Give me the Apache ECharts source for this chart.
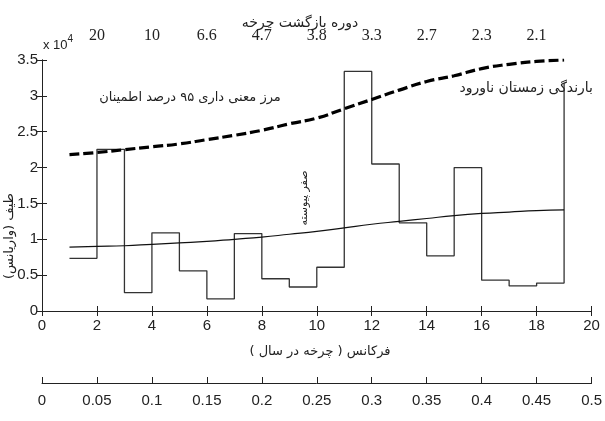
<!DOCTYPE html>
<html>
<head>
<meta charset="utf-8">
<script src="https://cdn.jsdelivr.net/npm/echarts@6/dist/echarts.min.js"></script>
<style>
html,body{margin:0;padding:0;background:#fff;}
#chart{width:605px;height:421px;}
</style>
</head>
<body>
<div id="chart"></div>
<script>
// Frequency bins (cycles per 40 years) and spectrum values (x 10^4)
const freq = [1,2,3,4,5,6,7,8,9,10,11,12,13,14,15,16,17,18,19];
const spectrum = [0.735,2.255,0.255,1.09,0.56,0.17,1.08,0.45,0.335,0.61,3.34,2.05,1.23,0.77,2.0,0.43,0.35,0.39,3.18];
const redNoise = [0.89,0.90,0.91,0.93,0.95,0.97,1.00,1.03,1.07,1.11,1.16,1.21,1.25,1.29,1.33,1.36,1.38,1.40,1.41];
const signif95 = [2.18,2.21,2.25,2.29,2.33,2.39,2.45,2.52,2.61,2.69,2.82,2.95,3.08,3.20,3.28,3.38,3.44,3.48,3.50];
// Top axis: return period labels at frequency ticks
const periodTicks = [2,4,6,8,10,12,14,16,18];
const periodLabels = ['20','10','6.6','4.7','3.8','3.3','2.7','2.3','2.1'];
const yTickLabels = ['0','0.5','1','1.5','2','2.5','3','3.5'];

const chart = echarts.init(document.getElementById('chart'));
const sans = "'Liberation Sans', Arial, sans-serif";
const fa = "'DejaVu Sans', 'Noto Sans', sans-serif";
const axisCol = '#222';

function zip(xs, ys){ return xs.map((x,i)=>[x, ys[i]]); }

const option = {
  animation: false,
  backgroundColor: '#fff',
  grid: {left: 42, right: 9, top: 60, bottom: 110, containLabel: false},
  xAxis: [
    {
      type: 'value', min: 0, max: 20, interval: 2, position: 'bottom',
      axisLine: {show: true, lineStyle: {color: axisCol, width: 1}},
      axisTick: {show: true, inside: true, length: 5, lineStyle: {color: axisCol}},
      splitLine: {show: false},
      axisLabel: {color: '#222', fontFamily: sans, fontSize: 15, margin: 7}
    },
    {
      type: 'value', min: 0, max: 20, interval: 2, position: 'top',
      axisLine: {show: true, lineStyle: {color: axisCol, width: 1}},
      axisTick: {show: true, inside: true, length: 5, lineStyle: {color: axisCol}},
      splitLine: {show: false},
      axisLabel: {
        color: '#222', fontFamily: "'Liberation Serif', 'Times New Roman', serif", fontSize: 16, margin: 16,
        formatter: function(v){ const i = periodTicks.indexOf(Math.round(v)); return i >= 0 ? periodLabels[i] : ''; }
      }
    },
    {
      type: 'value', min: 0, max: 0.5, interval: 0.05, position: 'bottom', offset: 72,
      axisLine: {show: true, lineStyle: {color: axisCol, width: 1}},
      axisTick: {show: true, inside: true, length: 6, lineStyle: {color: axisCol}},
      splitLine: {show: false},
      axisLabel: {
        color: '#222', fontFamily: sans, fontSize: 15, margin: 10,
        formatter: function(v){ return String(Math.round(v*100)/100); }
      }
    }
  ],
  yAxis: [
    {
      type: 'value', min: 0, max: 3.5, interval: 0.5, position: 'left',
      axisLine: {show: true, lineStyle: {color: axisCol, width: 1}},
      axisTick: {show: true, inside: true, length: 5, lineStyle: {color: axisCol}},
      splitLine: {show: false},
      axisLabel: {
        color: '#222', fontFamily: sans, fontSize: 15, margin: 4,
        formatter: function(v){ return yTickLabels[Math.round(v*2)]; }
      }
    },
    {
      type: 'value', min: 0, max: 3.5, interval: 0.5, position: 'right',
      axisLine: {show: true, lineStyle: {color: axisCol, width: 1}},
      axisTick: {show: true, inside: true, length: 5, lineStyle: {color: axisCol}},
      splitLine: {show: false},
      axisLabel: {show: false}
    }
  ],
  series: [
    {
      type: 'line', name: 'spectrum', xAxisIndex: 0, yAxisIndex: 0,
      data: zip(freq, spectrum), step: 'end', symbol: 'none',
      lineStyle: {color: '#333', width: 1.3}
    },
    {
      type: 'line', name: 'red noise', xAxisIndex: 0, yAxisIndex: 0,
      data: zip(freq, redNoise), smooth: true, symbol: 'none',
      lineStyle: {color: '#111', width: 1.2}
    },
    {
      type: 'line', name: '95%', xAxisIndex: 0, yAxisIndex: 0,
      data: zip(freq, signif95), smooth: true, symbol: 'none',
      lineStyle: {color: '#000', width: 3.2, type: [10, 4]}
    }
  ],
  graphic: [
    {type: 'text', x: 300, y: 23, style: {text: 'دوره بازگشت چرخه', font: '14px ' + fa, fill: '#222', align: 'center', verticalAlign: 'middle'}},
    {type: 'text', x: 43, y: 52, style: {text: '{a|x 10}{b|4}', rich: {a: {fontFamily: sans, fontSize: 13, fill: '#222', verticalAlign: 'bottom'}, b: {fontFamily: sans, fontSize: 10, fill: '#222', verticalAlign: 'top', padding: [0,0,8,0]}}, align: 'left', verticalAlign: 'bottom'}},
    {type: 'text', x: 10, y: 236, rotation: Math.PI/2, style: {text: 'طیف (واریانس)', font: '13px ' + fa, fill: '#222', align: 'center', verticalAlign: 'middle'}},
    {type: 'text', x: 320, y: 352, style: {text: 'فرکانس ( چرخه در سال )', font: '13px ' + fa, fill: '#222', align: 'center', verticalAlign: 'middle'}},
    {type: 'text', x: 190, y: 98, style: {text: 'مرز معنی داری ۹۵ درصد اطمینان', font: '13px ' + fa, fill: '#222', align: 'center', verticalAlign: 'middle'}},
    {type: 'text', x: 593, y: 88, style: {text: 'بارندگی زمستان ناورود', font: '14px ' + fa, fill: '#222', align: 'right', verticalAlign: 'middle'}},
    {type: 'text', x: 304, y: 198, rotation: Math.PI/2, style: {text: 'صفر پیوسته', font: '11px ' + fa, fill: '#222', align: 'center', verticalAlign: 'middle'}}
  ]
};
chart.setOption(option);
</script>
</body>
</html>
